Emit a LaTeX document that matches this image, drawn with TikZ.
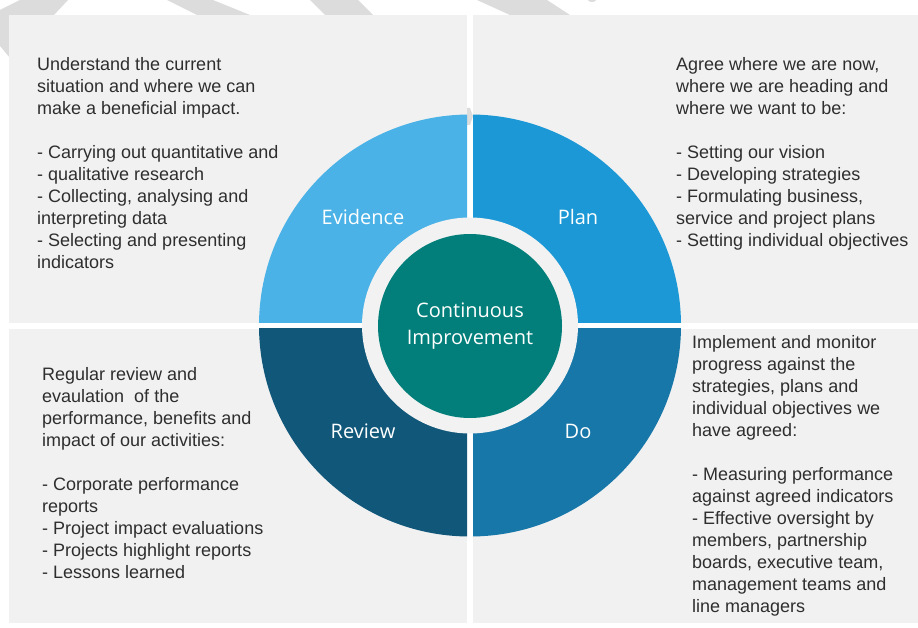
\documentclass[tikz,border=0pt]{standalone}
\usepackage{fontspec}
\setmainfont{Liberation Sans}
\newfontfamily\segoe{Open Sans}
\definecolor{panel}{HTML}{F1F1F1}
\definecolor{ringc}{HTML}{F2F2F2}
\definecolor{stripe}{HTML}{DCDCDC}
\definecolor{cEvid}{HTML}{4AB2E7}
\definecolor{cPlan}{HTML}{1B98D5}
\definecolor{cDo}{HTML}{1777A8}
\definecolor{cRev}{HTML}{105779}
\definecolor{cCore}{HTML}{027F7A}
\definecolor{txt}{HTML}{2E2E2E}
\begin{document}
\begin{tikzpicture}[x=1pt,y=-1pt,
  panelbox/.style={fill=panel},
  desc/.style={anchor=north west, inner sep=0pt, align=left, text=txt, font={\fontsize{18}{22}\selectfont}},
  qlabel/.style={inner sep=0pt, text=white, font={\segoe\fontsize{20}{26}\selectfont}},
  corenode/.style={circle, fill=cCore, minimum size=184pt, inner sep=0pt, text=white, align=center, font={\segoe\fontsize{20}{26}\selectfont}}]
\useasboundingbox (0,0) rectangle (918,628);
\fill[white] (0,0) rectangle (918,628);
% background stripes peeking above panels
\fill[stripe] (0,10) -- (20,0) -- (68,0) -- (40,30) -- (20,70) -- (0,46) -- cycle;
\fill[stripe] (167,0) -- (213,0) -- (287,30) -- (227,30) -- cycle;
\fill[stripe] (310,0) -- (358,0) -- (388,30) -- (340,30) -- cycle;
\fill[stripe] (477,0) -- (547,0) -- (593,30) -- (543,30) -- cycle;
\fill[stripe] (592,0) ellipse (4pt and 2pt);
% panels
\fill[panelbox] (9,15) rectangle (467,322.5);
\fill[panelbox] (473,15) rectangle (918,322.5);
\fill[panelbox] (9,328.5) rectangle (467,623);
\fill[panelbox] (473,328.5) rectangle (918,623);
\fill[stripe] (467,108) -- (470,108) -- (473,116) -- (470,125) -- (467,125) -- cycle;
% quadrants
\coordinate (ctr) at (470,325.5);
\begin{scope}
  \clip (0,0) rectangle (467,322.5);
  \fill[cEvid] (ctr) circle (211pt);
\end{scope}
\begin{scope}
  \clip (473,0) rectangle (918,322.5);
  \fill[cPlan] (ctr) circle (211pt);
\end{scope}
\begin{scope}
  \clip (0,328.5) rectangle (467,628);
  \fill[cRev] (ctr) circle (211pt);
\end{scope}
\begin{scope}
  \clip (473,328.5) rectangle (918,628);
  \fill[cDo] (ctr) circle (211pt);
\end{scope}
\fill[ringc] (ctr) circle (108pt);
\node[corenode] (core) at (470,326) {\raisebox{1pt}{Continuous}\\Improvement};
\node[qlabel] (ev) at (363,217) {Evidence};
\node[qlabel] (pl) at (578,217) {Plan};
\node[qlabel] (rv) at (363,431) {Review};
\node[qlabel] (do) at (578,431) {Do};
% descriptions
\node[desc] (tl) at (37,57) {Understand the current\\situation and where we can\\make a beneficial impact.\\[22pt]- Carrying out quantitative and\\- qualitative research\\- Collecting, analysing and\\interpreting data\\- Selecting and presenting\\indicators};
\node[desc] (tr) at (676,57) {Agree where we are now,\\where we are heading and\\where we want to be:\\[22pt]- Setting our vision\\- Developing strategies\\- Formulating business,\\service and project plans\\- Setting individual objectives};
\node[desc] (bl) at (42,367) {Regular review and\\evaulation\ \ of the\\performance, benefits and\\impact of our activities:\\[22pt]- Corporate performance\\reports\\- Project impact evaluations\\- Projects highlight reports\\- Lessons learned};
\node[desc] (br) at (692,335) {Implement and monitor\\progress against the\\strategies, plans and\\individual objectives we\\have agreed:\\[22pt]- Measuring performance\\against agreed indicators\\- Effective oversight by\\members, partnership\\boards, executive team,\\management teams and\\line managers};
\end{tikzpicture}
\end{document}
